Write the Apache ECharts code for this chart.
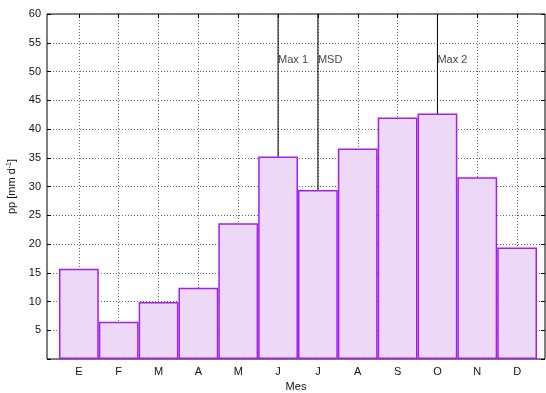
<!DOCTYPE html>
<html>
<head>
<meta charset="utf-8">
<script src="https://cdn.jsdelivr.net/npm/echarts@6/dist/echarts.min.js"></script>
<style>
  html, body { margin: 0; padding: 0; background: #fff; }
  #chart { width: 546px; height: 393px; }
</style>
</head>
<body>
<div id="chart"></div>
<script>
// meses (eje x) y precipitación media
const months = ['E', 'F', 'M', 'A', 'M', 'J', 'J', 'A', 'S', 'O', 'N', 'D'];
const pp = [15.7, 6.5, 9.9, 12.4, 23.6, 35.2, 29.4, 36.6, 42.0, 42.7, 31.6, 19.4];
// marcas verticales: índice del mes y texto
const markIdx = [5, 6, 9];
const markText = ['Max 1', 'MSD', 'Max 2'];
const yTicks = [5, 10, 15, 20, 25, 30, 35, 40, 45, 50, 55, 60];

const idx = months.map((m, i) => i);
const grid = {
  left: 47, right: 1, top: 14, bottom: 34,
  containLabel: false, outerBoundsMode: 'none',
  show: true, borderColor: '#000', borderWidth: 1
};
const font = { fontFamily: 'Liberation Sans, Arial, sans-serif', fontSize: 11, color: '#111' };
const dotted = { color: '#666', width: 1, type: [1, 2] };
const noLine = { show: false, onZero: false };
const tick = (extra) => ({ show: true, inside: true, length: 4, lineStyle: { color: '#000' }, ...extra });

const series = [{
  type: 'bar',
  data: pp.map((v, i) => [i, v]),
  barWidth: 39.8,
  itemStyle: { color: '#EDD9F7', borderColor: '#A020F0', borderWidth: 1.5 },
  z: 2
}];

markIdx.forEach((k, j) => {
  series.push({
    type: 'line',
    data: [[k, pp[k]], [k, 60]],
    symbol: 'none',
    lineStyle: { color: '#000', width: 1 },
    z: 3
  });
  series.push({
    type: 'scatter',
    data: [[k, 52]],
    symbolSize: 0,
    label: { show: true, position: 'right', distance: 0, formatter: markText[j], ...font },
    z: 4
  });
});

const chart = echarts.init(document.getElementById('chart'));
chart.setOption({
  animation: false,
  grid: grid,
  xAxis: [{
    type: 'value',
    min: -0.8,
    max: 11.7,
    name: 'Mes',
    nameLocation: 'middle',
    nameGap: 22,
    nameTextStyle: font,
    axisLine: noLine,
    axisTick: tick({ customValues: idx }),
    axisLabel: { customValues: idx, formatter: v => months[Math.round(v)], margin: 7, ...font },
    splitLine: { show: true, lineStyle: dotted }
  }, {
    type: 'value',
    position: 'top',
    min: -0.8,
    max: 11.7,
    axisLine: noLine,
    axisTick: tick({ customValues: idx }),
    axisLabel: { show: false, customValues: idx },
    splitLine: { show: false }
  }],
  yAxis: [{
    type: 'value',
    min: 0,
    max: 60,
    interval: 5,
    name: '{a|pp [mm d}{b|-1}{a|]}',
    nameLocation: 'middle',
    nameGap: 24,
    nameTextStyle: { rich: { a: { ...font }, b: { ...font, fontSize: 7, verticalAlign: 'top', padding: [0, 0, 6, 0] } } },
    axisLine: noLine,
    axisTick: tick({}),
    axisLabel: { formatter: v => (yTicks.includes(v) ? String(v) : ''), margin: 6, ...font },
    splitLine: { show: true, lineStyle: dotted }
  }, {
    type: 'value',
    position: 'right',
    min: 0,
    max: 60,
    interval: 5,
    axisLine: noLine,
    axisTick: tick({}),
    axisLabel: { show: false },
    splitLine: { show: false }
  }],
  series: series
});
</script>
</body>
</html>
